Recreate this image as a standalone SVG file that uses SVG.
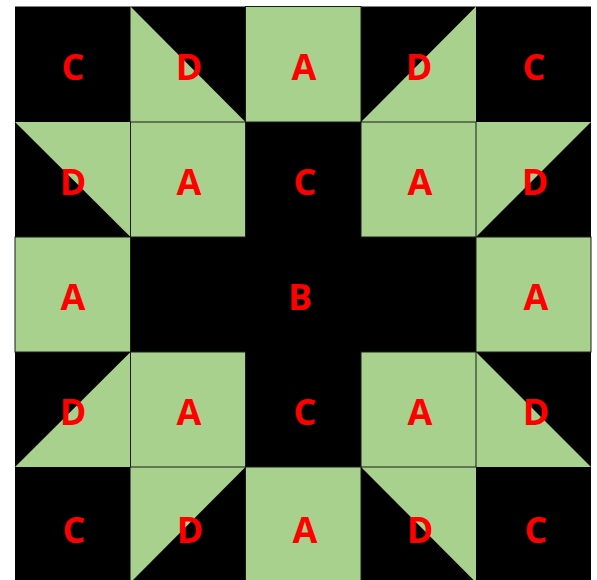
<svg xmlns="http://www.w3.org/2000/svg" width="597" height="580" viewBox="0 0 597 580">
<defs>
<style>
.bk{fill:#000000;}
.g{fill:#A9D18E;}
.sq{fill:#A9D18E;stroke:#1c1c1c;stroke-width:1;}
.t{font-family:"Open Sans","Liberation Sans",sans-serif;font-weight:bold;font-size:36px;fill:#FF0000;text-anchor:middle;}
</style>
</defs>
<rect width="597" height="580" fill="#ffffff"/>
<rect class="bk" x="15" y="6.5" width="576" height="576"/>
<g id="triangles">
<g id="r0c1"><polygon class="g" points="130.5,6.5 130.5,122 245.5,122"/><text class="t" x="189" y="80">D</text></g>
<g id="r0c3"><polygon class="g" points="476,6.5 476,122 361,122"/><text class="t" x="419" y="80">D</text></g>
<g id="r1c0"><polygon class="g" points="15,122 130.5,122 130.5,237"/><text class="t" x="73" y="195">D</text></g>
<g id="r1c4"><polygon class="g" points="476,122 591,122 476,237"/><text class="t" x="535" y="195">D</text></g>
<g id="r3c0"><polygon class="g" points="130.5,352 130.5,467 15,467"/><text class="t" x="73" y="425">D</text></g>
<g id="r3c4"><polygon class="g" points="476,352 476,467 591,467"/><text class="t" x="536" y="425">D</text></g>
<g id="r4c1"><polygon class="g" points="130.5,467 245.5,467 130.5,582.5"/><text class="t" x="190" y="543">D</text></g>
<g id="r4c3"><polygon class="g" points="361,467 476,467 476,582.5"/><text class="t" x="420" y="543">D</text></g>
</g>
<g id="squares">
<g id="r0c2"><rect class="sq" x="245.5" y="6.5" width="115.5" height="115.5"/><text class="t" x="304" y="80">A</text></g>
<g id="r1c1"><rect class="sq" x="130.5" y="122" width="115" height="115"/><text class="t" x="189" y="195">A</text></g>
<g id="r1c3"><rect class="sq" x="361" y="122" width="115" height="115"/><text class="t" x="420" y="195">A</text></g>
<g id="r2c0"><rect class="sq" x="15" y="237" width="115.5" height="115"/><text class="t" x="73" y="310">A</text></g>
<g id="r2c4"><rect class="sq" x="476" y="237" width="115" height="115"/><text class="t" x="536" y="310">A</text></g>
<g id="r3c1"><rect class="sq" x="130.5" y="352" width="115" height="115"/><text class="t" x="189" y="425">A</text></g>
<g id="r3c3"><rect class="sq" x="361" y="352" width="115" height="115"/><text class="t" x="420" y="425">A</text></g>
<g id="r4c2"><rect class="sq" x="245.5" y="467" width="115.5" height="116"/><text class="t" x="305" y="543">A</text></g>
</g>
<g id="blacks">
<g id="r0c0"><text class="t" x="73" y="80">C</text></g>
<g id="r0c4"><text class="t" x="534" y="80">C</text></g>
<g id="r1c2"><text class="t" x="305" y="195">C</text></g>
<g id="r2c2"><text class="t" x="300" y="310">B</text></g>
<g id="r3c2"><text class="t" x="305" y="425">C</text></g>
<g id="r4c0"><text class="t" x="74" y="543">C</text></g>
<g id="r4c4"><text class="t" x="536" y="543">C</text></g>
</g>
<g id="connectors"/>
</svg>
